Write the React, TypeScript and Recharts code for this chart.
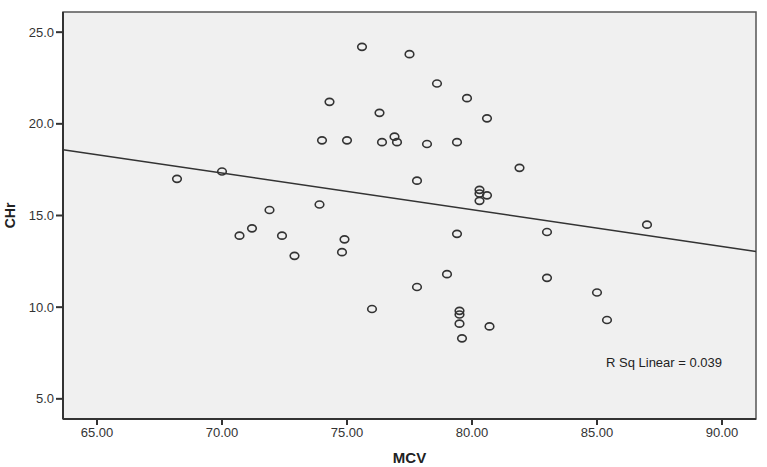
import React from "react";
import {
  ScatterChart,
  Scatter,
  XAxis,
  YAxis,
  CartesianGrid,
  ReferenceLine,
  ReferenceArea,
} from "recharts";

const mcv = [
  68.2, 70.0, 71.9, 71.2, 70.7, 72.4, 72.9, 73.9, 74.9, 74.8, 76.0, 75.6, 77.5,
  78.6, 79.8, 74.3, 76.3, 80.6, 74.0, 75.0, 76.4, 76.9, 77.0, 78.2, 79.4, 77.8,
  81.9, 80.3, 80.3, 80.6, 80.3, 79.4, 83.0, 87.0, 79.0, 77.8, 83.0, 85.0, 85.4,
  79.5, 79.5, 79.5, 80.7, 79.6,
];
const chr = [
  17.0, 17.4, 15.3, 14.3, 13.9, 13.9, 12.8, 15.6, 13.7, 13.0, 9.9, 24.2, 23.8,
  22.2, 21.4, 21.2, 20.6, 20.3, 19.1, 19.1, 19.0, 19.3, 19.0, 18.9, 19.0, 16.9,
  17.6, 16.4, 16.2, 16.1, 15.8, 14.0, 14.1, 14.5, 11.8, 11.1, 11.6, 10.8, 9.3,
  9.8, 9.6, 9.1, 8.95, 8.3,
];
const xTicks = [65, 70, 75, 80, 85, 90];
const yTicks = [5, 10, 15, 20, 25];
const xDomain = [63.64, 91.36];
const yDomain = [3.9, 26.1];
// fitted line ends
const fitLine = [
  { x: 63.64, y: 18.59 },
  { x: 91.36, y: 13.04 },
];
const rSquared = "R Sq Linear = 0.039";

const points = mcv.map((x, i) => ({ x, y: chr[i] }));

const Ring = (props: any) => {
  const { cx, cy } = props;
  return (
    <ellipse cx={cx} cy={cy} rx={4.3} ry={3.5} fill="none" stroke="#333" strokeWidth={1.6} />
  );
};

const font = "Liberation Sans, Arial, sans-serif";
const tickStyle = { fontSize: 13, fill: "#333", fontFamily: font };

export default function App() {
  return (
    <div style={{ position: "absolute", left: 0, top: 0, width: 767, height: 467, background: "#fff" }}>
      <ScatterChart width={767} height={467} margin={{ top: 12, right: 11, bottom: 0, left: 0 }}>
        <CartesianGrid fill="#f0f0f0" horizontal={false} vertical={false} />
        <XAxis
          type="number"
          dataKey="x"
          domain={xDomain}
          ticks={xTicks}
          allowDataOverflow
          height={48}
          tickSize={6}
          tickMargin={3}
          tick={tickStyle}
          tickFormatter={(v: number) => v.toFixed(2)}
          axisLine={{ stroke: "#333", strokeWidth: 2 }}
          tickLine={{ stroke: "#333", strokeWidth: 2 }}
          label={{
            value: "MCV",
            position: "insideBottom",
            offset: 4,
            style: { fontSize: 15, fontWeight: "bold", fill: "#222", fontFamily: font },
          }}
        />
        <YAxis
          type="number"
          dataKey="y"
          domain={yDomain}
          ticks={yTicks}
          allowDataOverflow
          width={63}
          tickSize={7}
          tickMargin={2}
          tick={tickStyle}
          tickFormatter={(v: number) => v.toFixed(1)}
          axisLine={{ stroke: "#333", strokeWidth: 2 }}
          tickLine={{ stroke: "#333", strokeWidth: 2 }}
          label={{
            value: "CHr",
            angle: -90,
            position: "insideLeft",
            offset: 10,
            style: { fontSize: 14, fontWeight: "bold", fill: "#222", textAnchor: "middle", fontFamily: font },
          }}
        />
        <ReferenceArea
          x1={xDomain[0]}
          x2={xDomain[1]}
          y1={yDomain[0]}
          y2={yDomain[1]}
          fill="none"
          stroke="#555"
          strokeWidth={1.5}
        />
        <ReferenceLine segment={fitLine} stroke="#333" strokeWidth={1.5} />
        <Scatter data={points} shape={Ring} isAnimationActive={false} />
      </ScatterChart>
      <div
        style={{
          position: "absolute",
          left: 606,
          top: 355,
          fontSize: 13,
          color: "#222",
          fontFamily: font,
          whiteSpace: "nowrap",
        }}
      >
        {rSquared}
      </div>
    </div>
  );
}
